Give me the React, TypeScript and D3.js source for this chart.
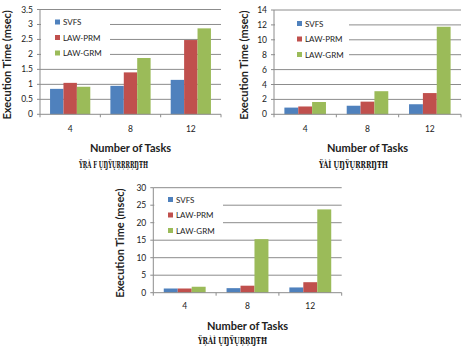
import React from "react";
import * as d3 from "d3";

const categories = ["4", "8", "12"];
const seriesNames = ["SVFS", "LAW-PRM", "LAW-GRM"];
const colors = ["#4F81BD", "#C0504D", "#9BBB59"];

const panelA_SVFS = [0.85, 0.95, 1.15];
const panelA_PRM = [1.05, 1.4, 2.48];
const panelA_GRM = [0.92, 1.88, 2.87];
const panelA_ticks = [0, 0.5, 1, 1.5, 2, 2.5, 3, 3.5];

const panelB_SVFS = [0.9, 1.15, 1.35];
const panelB_PRM = [1.05, 1.7, 2.85];
const panelB_GRM = [1.65, 3.1, 11.75];
const panelB_ticks = [0, 2, 4, 6, 8, 10, 12, 14];

const panelC_SVFS = [1.2, 1.3, 1.5];
const panelC_PRM = [1.2, 2.0, 3.0];
const panelC_GRM = [1.7, 15.3, 23.8];
const panelC_ticks = [0, 5, 10, 15, 20, 25, 30];

const captions = ["ŸŖÀ F  ŲŊŸŲŖŖŖŖŊŦĦ", "ŸÀÌ  ŲŊŸŲŖŖŖŊŦĦ", "ŸŖÀÌ  ŲŊŸŲŖŖŊŦĦ"];

const FONT = "Lato, 'Open Sans', sans-serif";

type PanelProps = {
  left: number; top: number; right: number; bottom: number;
  ticks: number[]; series: number[][];
  legendX: number; legendY: number; legendRight: number; legendBottom: number;
  yLabelX: number; xTitleY: number; catY: number;
  caption: string; capX: number; capY: number; capW: number;
};

function Panel(p: PanelProps) {
  const y = d3.scaleLinear().domain([0, p.ticks[p.ticks.length - 1]]).range([p.bottom, p.top]);
  const x0 = d3.scaleBand().domain(categories).range([p.left, p.right]).paddingInner(0.333).paddingOuter(0.1667);
  const x1 = d3.scaleBand().domain(seriesNames).range([0, x0.bandwidth()]);
  const fmt = (v: number) => String(v);
  const grid = "#8c8c8c";
  const band = (p.right - p.left) / categories.length;
  return (
    <g>
      {p.ticks.slice(1).map((t) => (
        <line key={"g" + t} x1={p.left} x2={p.right} y1={y(t)} y2={y(t)} stroke={grid} strokeWidth={1} />
      ))}
      <rect x={p.left + 1} y={p.legendY - 10} width={p.legendRight - p.left - 1} height={p.legendBottom - p.legendY + 10} fill="#fff" />
      {seriesNames.map((s, i) => (
        <g key={s}>
          <rect x={p.legendX} y={p.legendY + i * 15.5 - 5.5} width={5} height={5} fill={colors[i]} />
          <text x={p.legendX + 8} y={p.legendY + i * 15.5} fontSize={8} fill="#222" fontFamily={FONT}>{s}</text>
        </g>
      ))}
      {categories.map((c, ci) =>
        p.series.map((vals, si) => (
          <rect key={c + si} x={(x0(c) as number) + (x1(seriesNames[si]) as number)} y={y(vals[ci])}
            width={x1.bandwidth()} height={p.bottom - y(vals[ci])} fill={colors[si]} />
        ))
      )}
      <line x1={p.left} x2={p.left} y1={p.top} y2={p.bottom} stroke={grid} />
      <line x1={p.left} x2={p.right} y1={p.bottom} y2={p.bottom} stroke={grid} />
      {p.ticks.map((t) => (
        <g key={"t" + t}>
          <line x1={p.left - 3} x2={p.left} y1={y(t)} y2={y(t)} stroke={grid} />
          <text x={p.left - 7} y={y(t) + 3} fontSize={8.5} textAnchor="end" fill="#222" fontFamily={FONT}>{fmt(t)}</text>
        </g>
      ))}
      {d3.range(categories.length + 1).map((i) => (
        <line key={"xt" + i} x1={p.left + i * band} x2={p.left + i * band} y1={p.bottom} y2={p.bottom + 3} stroke={grid} />
      ))}
      {categories.map((c) => (
        <text key={"c" + c} x={(x0(c) as number) + x0.bandwidth() / 2} y={p.catY} fontSize={8.5} textAnchor="middle" fill="#222" fontFamily={FONT}>{c}</text>
      ))}
      <text transform={`translate(${p.yLabelX},${(p.top + p.bottom) / 2 + 3}) rotate(-90)`} textAnchor="middle" fontSize={11} fontWeight="bold" fill="#222" fontFamily={FONT}>Execution Time (msec)</text>
      <text x={(p.left + p.right) / 2} y={p.xTitleY} textAnchor="middle" fontSize={11} fontWeight="bold" fill="#222" fontFamily={FONT}>Number of Tasks</text>
      <text x={p.capX} y={p.capY} fontSize={9} fontWeight="bold" fill="#111" fontFamily="'DejaVu Serif', serif" textLength={p.capW} lengthAdjust="spacingAndGlyphs">{p.caption}</text>
    </g>
  );
}

export default function App() {
  return (
    <svg width={463} height={349} style={{ position: "absolute", left: 0, top: 0, background: "#fff" }}>
      <rect width={463} height={349} fill="#fff" />
      <Panel left={40} top={9.5} right={221} bottom={114.3} ticks={panelA_ticks}
        series={[panelA_SVFS, panelA_PRM, panelA_GRM]}
        legendX={55} legendY={25} legendRight={110} legendBottom={60}
        yLabelX={11} xTitleY={152} catY={132}
        caption={captions[0]} capX={79} capY={168} capW={69} />
      <Panel left={274} top={10} right={461} bottom={114.3} ticks={panelB_ticks}
        series={[panelB_SVFS, panelB_PRM, panelB_GRM]}
        legendX={297} legendY={26.5} legendRight={349} legendBottom={60}
        yLabelX={248} xTitleY={152} catY={132}
        caption={captions[1]} capX={319} capY={168} capW={69} />
      <Panel left={153.3} top={187.7} right={341.7} bottom={292.7} ticks={panelC_ticks}
        series={[panelC_SVFS, panelC_PRM, panelC_GRM]}
        legendX={168} legendY={202.5} legendRight={223} legendBottom={236}
        yLabelX={124} xTitleY={330} catY={309}
        caption={captions[2]} capX={198} capY={344} capW={69} />
    </svg>
  );
}
